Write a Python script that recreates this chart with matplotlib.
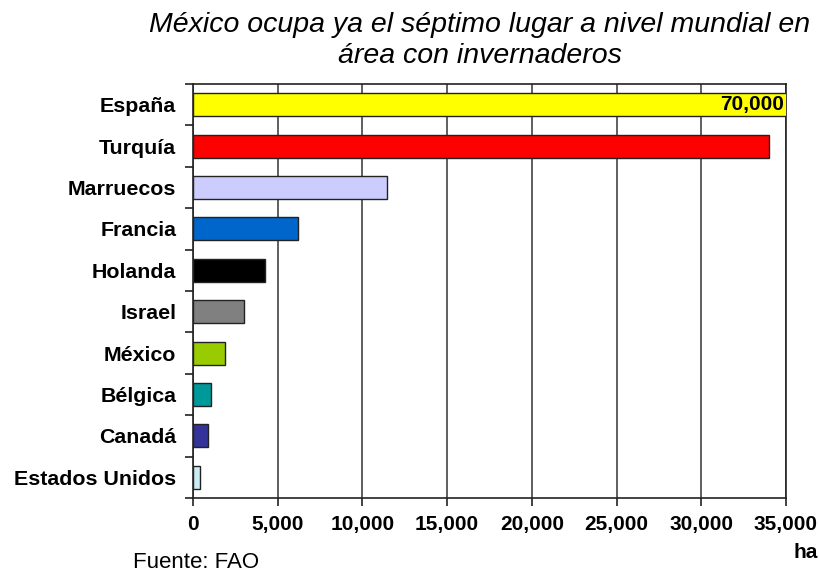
import matplotlib.pyplot as plt
from matplotlib.ticker import FuncFormatter

paises = ['España', 'Turquía', 'Marruecos', 'Francia', 'Holanda', 'Israel',
          'México', 'Bélgica', 'Canadá', 'Estados Unidos']
hectareas = [70000, 34000, 11450, 6200, 4250, 3000, 1900, 1050, 900, 400]
colores = ['#FFFF00', '#FF0000', '#CCCCFF', '#0066CC', '#000000', '#808080',
           '#99CC00', '#009999', '#333399', '#CCECF4']
xticks = [0, 5000, 10000, 15000, 20000, 25000, 30000, 35000]

plt.rcParams['font.family'] = ['Liberation Sans', 'DejaVu Sans']

fig = plt.figure(figsize=(8.2, 5.73), dpi=100)
ax = fig.add_axes([0.2354, 0.1309, 0.7231, 0.7225])

y = list(range(len(paises)))
ax.barh(y, hectareas, height=0.56, color=colores, edgecolor='#222222',
        linewidth=1, zorder=3)
ax.set_ylim(len(paises) - 0.5, -0.5)
ax.set_xlim(0, 35000)

# etiqueta del valor que se sale de la escala
ax.text(34900, 0, f'{hectareas[0]:,}', ha='right', va='center',
        fontsize=15, fontweight='bold', zorder=4)

ax.set_xticks(xticks)
ax.xaxis.set_major_formatter(FuncFormatter(lambda v, p: f'{int(v):,}'))
ax.set_yticks(y)
ax.set_yticklabels(paises)
ax.set_yticks([k - 0.5 for k in range(len(paises) + 1)], minor=True)
ax.tick_params(axis='y', which='major', length=0, pad=12, labelsize=15.4)
ax.tick_params(axis='y', which='minor', length=6, width=1.2, color='#222222')
ax.tick_params(axis='x', length=6, width=1.2, color='#222222', pad=6,
               labelsize=15)
for lbl in ax.get_xticklabels() + ax.get_yticklabels():
    lbl.set_fontweight('bold')

ax.grid(axis='x', color='#444444', linewidth=1.2, zorder=0)
for s in ax.spines.values():
    s.set_color('#222222')
    s.set_linewidth(1.2)

fig.text(0.585, 0.929, 'México ocupa ya el séptimo lugar a nivel mundial en\nárea con invernaderos',
         ha='center', va='center', fontsize=20.5, style='italic',
         linespacing=1.25)
fig.text(0.997, 0.036, 'ha', ha='right', va='center', fontsize=15,
         fontweight='bold')
fig.text(0.162, 0.019, 'Fuente: FAO', ha='left', va='center', fontsize=16)

fig.savefig('out.png', dpi=100)
